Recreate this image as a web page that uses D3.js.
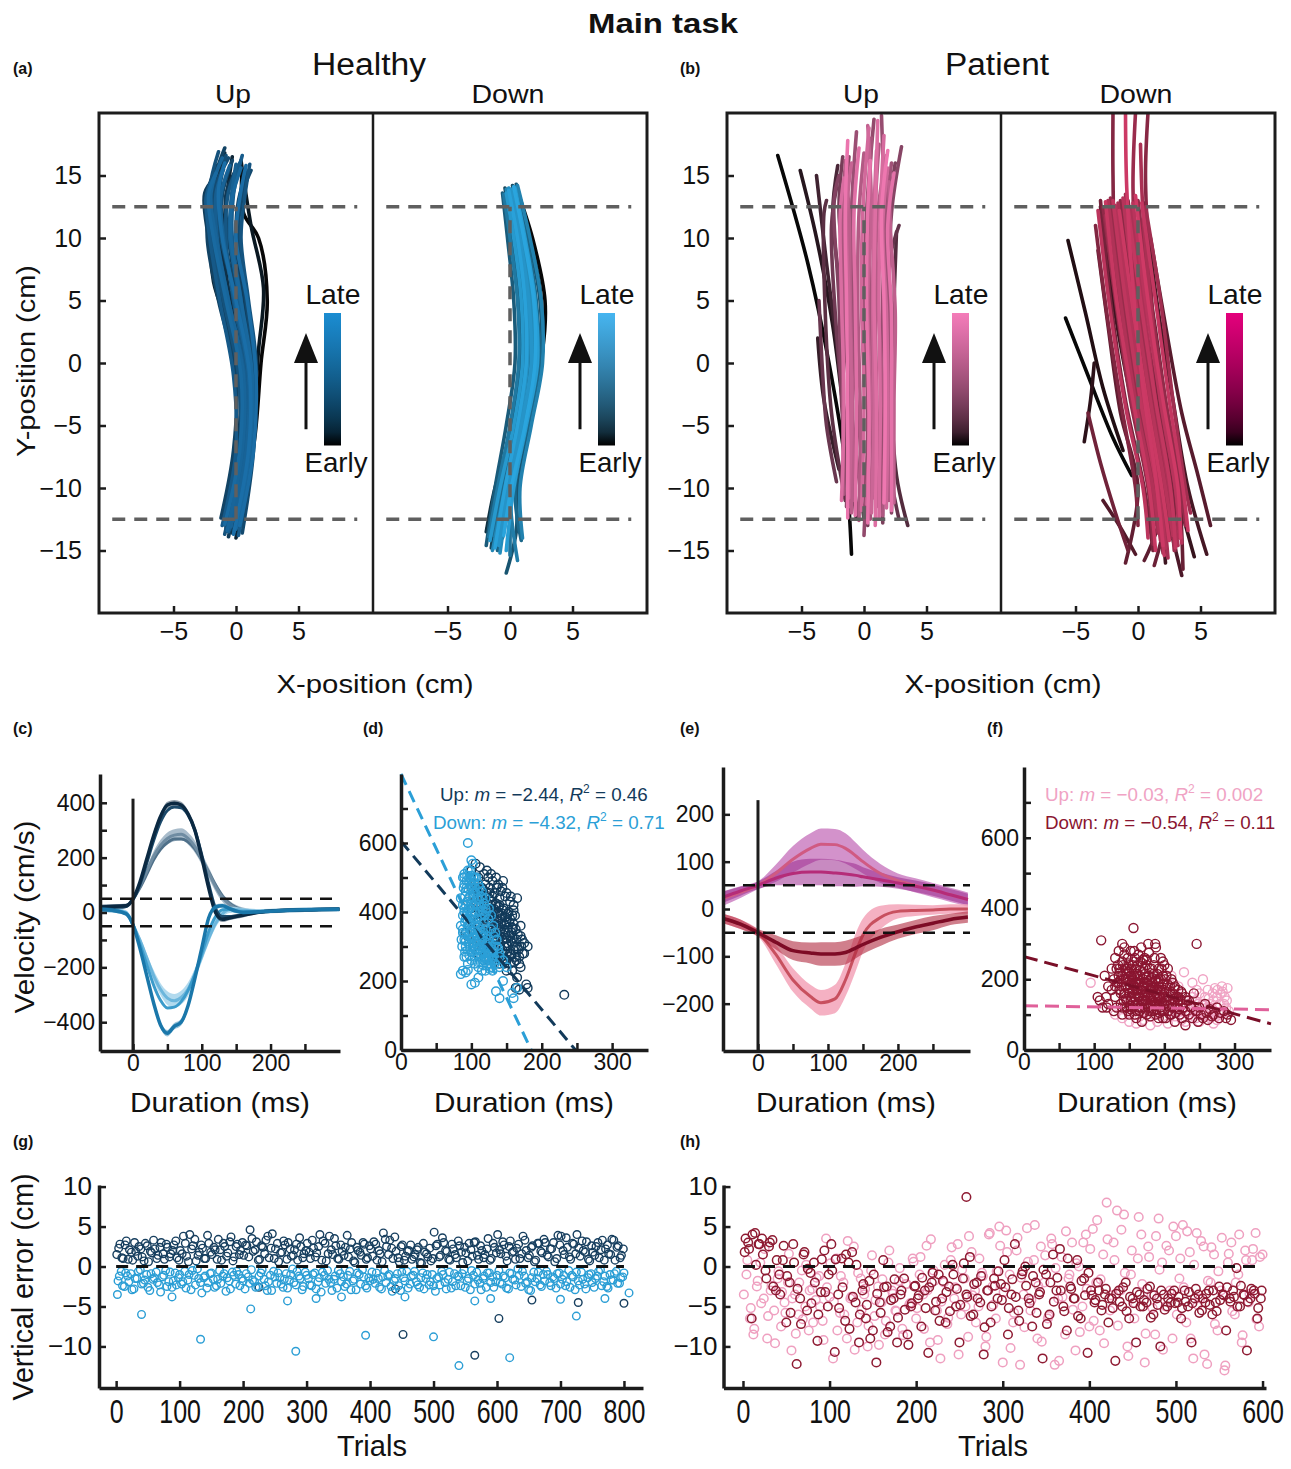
<!DOCTYPE html>
<html><head><meta charset="utf-8">
<script src="https://cdn.jsdelivr.net/npm/d3@7"></script>
<style>body{margin:0;background:#fff} svg text{font-family:"Liberation Sans",Arial,Helvetica,sans-serif}</style>
</head><body><script>
// ================= DATA =================
const titleMain = "Main task";
const groupTitles = ["Healthy", "Patient"];
const dirTitles = ["Up", "Down"];
const panelLetters = ["(a)","(b)","(c)","(d)","(e)","(f)","(g)","(h)"];
const posXTicks = [-5, 0, 5];
const posYTicks = [-15, -10, -5, 0, 5, 10, 15];
const targetY = [-12.5, 12.5];

// trajectories: flat [x,y, x,y, ...] in cm, ordered early -> late
const trajHealthyUp = [
 [0.2,-13.5, 1.5,-6, 2.0,0, 2.5,5, 1.8,10, 0.6,12, 0.5,15.5],
 [-0.5,-13, 1.2,-6, 1.8,1, 2.2,6, 1.2,11, 0.4,16.2],
 [-1.0,-12.5, 0.3,-5, 0.0,1, -1.8,6.5, -2.0,11, -1.2,16.0],
 [0.0,-14, 1.0,-7, 0.8,-1, -0.5,5, -1.0,10, -0.3,16.5],
 [-0.8,-13, 0.4,-6, 0.5,0, -0.8,6, -1.6,11, -0.9,16.8],
 [-0.3,-13.6, 0.9,-7, 0.8,-1, -0.4,5, -1.4,10, -1.8,13.5, -1.2,16.2],
 [-1.0,-12.8, 0.2,-7, 0.5,-1, -0.9,5, -2.0,10, -2.3,13.5, -1.5,15.8],
 [0.3,-13.2, 1.3,-7, 1.2,-1, 0.2,5, -0.6,10, -0.8,13.5, 0.2,15.8],
 [-0.6,-13.9, 0.6,-7, 0.3,-1, -1.2,5, -2.2,10, -2.5,13.6, -1.7,14.8],
 [0.0,-12.7, 1.0,-6, 1.4,0, 0.6,5, 0.0,10, 0.2,13, 0.9,15.3],
 [-1.2,-12.4, -0.2,-7, 0.0,-1, -1.4,5, -2.3,10, -2.0,13.8, -0.9,17.2],
 [-0.2,-13.4, 1.1,-7, 1.3,-1, 0.2,5, -1.0,10, -1.1,13.4, -0.3,16.2],
 [0.5,-13.6, 1.4,-7, 1.5,-1, 0.8,5, 0.2,10, 0.5,13.5, 1.2,15.4],
 [-0.8,-13.2, 0.5,-7, 0.6,-1, -0.7,5, -1.7,10, -1.8,13.6, -0.6,16.4],
 [-0.4,-12.9, 0.7,-6, 1.0,0, 0.0,5, -1.2,10, -1.4,13.2, -0.8,16.6],
 [-0.9,-13.7, 0.3,-7, 0.2,-1, -1.0,5, -1.9,10, -2.1,13.9, -1.4,16.9],
 [0.1,-13.0, 1.2,-7, 1.6,0, 1.0,5, 0.4,10, 0.7,13.3, 1.1,15.9],
 [-0.5,-13.3, 0.8,-7, 0.9,-1, -0.2,5, -0.8,10, -0.6,13.7, 0.3,16.0],
 [-1.1,-13.0, 0.0,-7, -0.2,-1, -1.3,5, -2.1,10, -2.4,13.2, -2.0,14.5],
 [0.2,-13.8, 1.2,-7, 1.1,-1, 0.4,5, -0.3,10, -0.2,13.5, 0.5,16.6],
 [-0.6,-13.5, 0.6,-7, 0.7,-1, -0.6,5, -1.5,10, -1.6,13.5, -1.0,15.5],
 [-0.3,-12.6, 0.9,-7, 1.1,-1, 0.3,5, -0.5,10, -0.4,13.0, 0.0,15.9],
 [-0.4,-13.1, 0.8,-7, 1.0,-1, -0.1,5, -1.0,10, -1.2,13.4, -0.5,15.8],
 [-0.7,-13.4, 0.5,-7, 0.6,-1, -0.6,5, -1.6,10, -2.0,13.6, -1.1,16.4],
 [0.0,-13.3, 1.1,-7, 1.3,-1, 0.4,5, -0.4,10, -0.3,13.2, 0.4,15.6],
 [-0.9,-12.9, 0.3,-7, 0.4,-1, -0.8,5, -1.8,10, -2.2,13.4, -1.6,15.2],
 [0.3,-13.0, 1.4,-7, 1.6,-1, 0.9,5, 0.0,10, 0.3,13.2, 0.8,15.8],
 [-0.2,-13.7, 1.0,-7, 1.1,-1, 0.0,5, -1.1,10, -1.4,13.8, -0.9,16.0]
];
const trajHealthyDown = [
 [0.5,14, 1.8,10, 2.8,5, 2.6,1, 1.2,-5, -0.5,-10, -1.2,-13],
 [0.2,13.5, 1.5,10, 2.4,6, 2.5,1, 1.0,-5, -0.6,-10, -1.8,-13.2],
 [-0.3,12.5, 0.5,9, 1.2,4, 1.0,-1, 0.0,-6, -1.2,-10, -1.9,-13.5],
 [0.4,13.8, 1.2,10, 1.8,5, 1.6,0, 0.6,-5, -0.5,-10, -1.0,-14.5],
 [-0.4,14.0, 0.2,10, 0.8,5, 0.8,0, 0.2,-5, -0.8,-10, -1.5,-14.8],
 [0.2,14.2, 1.0,10, 1.8,5, 2.0,0, 1.2,-5, 0.2,-10, -0.6,-14.0],
 [0.5,14.3, 1.5,10, 2.4,5, 2.5,0, 1.6,-5, 0.6,-10, 0.5,-13.5, -0.3,-16.8],
 [-0.6,13.6, -0.2,10, 0.3,5, 0.4,0, -0.3,-5, -1.2,-10, -1.9,-14.6],
 [0.0,13.9, 0.7,10, 1.4,5, 1.5,0, 0.8,-5, -0.2,-10, -1.0,-15.0],
 [0.3,14.0, 1.3,10, 2.1,5, 2.3,0, 1.4,-5, 0.4,-10, 0.9,-14.2],
 [-0.2,13.7, 0.4,10, 1.0,5, 1.1,0, 0.5,-5, -0.6,-10, -1.3,-13.8],
 [0.4,14.1, 1.1,10, 1.9,5, 2.1,0, 1.2,-5, 0.2,-10, 0.0,-15.4],
 [-0.5,13.5, 0.0,10, 0.6,5, 0.7,0, 0.0,-5, -1.0,-10, -1.7,-13.9],
 [0.1,13.8, 0.9,10, 1.6,5, 1.8,0, 1.0,-5, 0.0,-10, 0.6,-15.8],
 [0.6,14.2, 1.6,10, 2.5,5, 2.6,0, 1.7,-5, 0.8,-10, 1.0,-14.0],
 [-0.3,13.9, 0.5,10, 1.2,5, 1.3,0, 0.6,-5, -0.4,-10, -1.4,-15.0],
 [0.2,13.6, 1.0,10, 1.7,5, 1.9,0, 1.1,-5, 0.0,-10, -0.8,-15.2],
 [-0.1,14.0, 0.6,10, 1.3,5, 1.4,0, 0.7,-5, -0.3,-10, -1.1,-14.4],
 [0.1,13.9, 0.8,10, 1.5,5, 1.7,0, 0.9,-5, -0.1,-10, -0.9,-14.6],
 [-0.3,13.6, 0.3,10, 0.9,5, 1.0,0, 0.3,-5, -0.8,-10, -1.6,-14.2],
 [0.4,14.0, 1.2,10, 2.0,5, 2.2,0, 1.3,-5, 0.3,-10, -0.3,-15.0],
 [-0.1,13.8, 0.6,10, 1.2,5, 1.3,0, 0.6,-5, -0.4,-10, -1.2,-14.8],
 [0.3,14.1, 1.1,10, 1.9,5, 2.0,0, 1.2,-5, 0.1,-10, -0.5,-13.8]
];
const trajPatientUp = [
 [-1.0,-15.3, -1.5,-8, -2.8,0, -4.5,8, -6.9,16.6],
 [-0.6,-12.5, -1.5,-5, -2.5,3, -3.8,10, -5.1,15.4],
 [-2.0,-8.5, -3.2,-3, -3.7,2.0],
 [-1.0,-10, -2.0,0, -3.0,8, -3.8,15.0],
 [0.0,-12.5, -1.0,-4, -1.8,5, -2.5,12, -2.1,15.8],
 [3.5,-13.0, 2.6,-9, 2.2,-2, 2.4,5, 2.6,10.5],
 [-1.5,-11, -2.6,-4, -3.1,4, -3.2,12, -3.0,13],
 [2.8,-12.5, 2.0,-8, 1.8,0, 2.0,8, 2.8,11],
 [-2.2,-9.5, -3.0,-5, -3.3,-1, -3.6,5],
 [-0.5,-12, -1.6,-4, -2.3,4, -2.6,11, -2.2,14],
 [0.3,-13, -0.5,-4, -1.2,5, -2.0,12, -1.7,16.5],
 [1.5,-12.8, 1.4,-4, 1.5,4, 1.8,11, 2.5,16],
 [-1.2,-11.5, -1.8,-3, -2.0,5, -2.4,13, -2.0,15],
 [2.2,-12, 2.3,-3, 2.0,5, 2.2,12, 3.0,17.3],
 [-1.4,-11.5, -1.2,-3, -1.3,5, -1.5,12, -1.2,16.5],
 [0.0,-13.8, 0.3,-4, 0.0,5, 0.2,12, 0.8,19.5],
 [1.0,-11.5, 1.3,-3, 1.5,5, 1.6,12, 1.4,19.8],
 [-0.8,-11.0, -0.6,-3, -0.9,5, -1.0,12, -0.6,18.5],
 [2.0,-11.0, 2.0,-3, 2.0,3, 1.7,11, 2.2,16],
 [0.5,-12.5, 0.7,-4, 0.5,5, 0.4,12, 0.6,18.0],
 [-1.6,-10.5, -1.7,-3, -1.6,5, -1.7,12, -1.5,15.8],
 [1.5,-12.2, 1.6,-4, 1.1,5, 0.9,12, 1.2,17.5],
 [-0.4,-12.6, -0.3,-4, -0.5,5, -0.4,12, 0.0,16.8],
 [0.8,-10.8, 1.0,-3, 0.9,5, 1.1,12, 1.8,16.6],
 [-1.0,-12, -0.9,-4, -1.1,5, -1.2,12, -1.5,16.2],
 [2.4,-11.2, 2.4,-3, 2.5,4, 2.1,11, 2.0,14.5],
 [0.2,-11.3, 0.5,-3, 0.3,5, 0.6,12, 0.3,19.0],
 [-1.2,-10.8, -1.0,-3, -1.2,5, -1.4,12, -1.0,16.0],
 [0.6,-12.0, 0.8,-4, 0.7,5, 0.8,12, 1.0,17.0],
 [1.8,-11.6, 1.9,-3, 1.8,4, 1.5,11, 1.9,15.6],
 [-0.2,-11.8, 0.0,-3, -0.2,5, -0.1,12, 0.4,18.8],
 [1.2,-12.4, 1.3,-4, 1.2,5, 1.3,12, 1.6,18.2],
 [-1.8,-11.0, -1.6,-3, -1.8,5, -1.9,12, -1.6,14.8],
 [0.9,-13.0, 1.0,-4, 0.8,5, 0.9,12, 1.1,19.4],
 [-0.7,-12.2, -0.6,-4, -0.7,5, -0.8,12, -0.4,17.2],
 [2.2,-11.8, 2.2,-3, 2.2,4, 1.9,11, 2.4,15.2],
 [0.3,-12.8, 0.4,-4, 0.2,5, 0.3,12, 0.5,16.2],
 [-1.3,-12.4, -1.3,-4, -1.4,5, -1.5,12, -1.3,17.8],
 [1.6,-11.2, 1.7,-3, 1.6,5, 1.4,12, 1.9,17.0]
];
const trajPatientDown = [
 [-5.8,3.6, -4.0,-1, -2.0,-6, -0.5,-9],
 [-5.6,9.8, -4.2,4, -2.8,-2, -1.2,-7],
 [-4.3,-6.3, -3.8,-3, -3.5,0],
 [-1.5,12.5, -0.5,5, 1.0,-2, 3.0,-10, 4.5,-15.5],
 [-3.0,12.5, -2.0,5, -0.5,-3, 1.5,-10, 2.2,-16.0],
 [0.5,12.8, 1.5,5, 2.8,-3, 4.0,-10, 5.5,-15.3],
 [-2.3,8, -1.2,2, 0.3,-5, 2.0,-11, 3.5,-17.0],
 [-2.8,-11.0, -1.5,-13, -0.2,-15.3],
 [1.0,10, 2.2,3, 3.5,-4, 4.8,-9, 5.8,-13.0],
 [-1.8,10.5, -0.8,3, 0.6,-5, 1.8,-12, 0.5,-15.8],
 [-3.2,9, -2.4,3, -1.4,-4, 0.0,-10, -1.0,-16],
 [0.0,11, 1.2,4, 2.2,-3, 3.2,-9, 3.6,-16.5],
 [-0.5,10, 0.5,3, 1.5,-4, 2.6,-10, 1.3,-16.2],
 [-4.0,-4, -3.0,-8, -1.8,-12, -0.8,-15],
 [-3.0,13, -2.2,5, -1.0,-3, 0.5,-10, 1.2,-15],
 [-2.5,12, -1.5,5, -0.2,-2, 1.3,-9, 2.0,-14],
 [-0.8,13, 0.3,5, 1.6,-3, 2.8,-10, 3.0,-15],
 [-3.4,11, -2.5,4, -1.4,-3, -0.2,-10, 0.0,-13],
 [-2.0,20, -2.0,15, -1.8,8, -0.8,0, 0.6,-7, 1.8,-13],
 [0.8,20, 0.6,15, 0.9,8, 1.5,0, 2.2,-7, 3.0,-13.5],
 [-1.4,13, -0.4,5, 0.8,-3, 2.0,-10, 2.6,-14],
 [-2.8,12.5, -1.8,5, -0.6,-3, 0.8,-10, 1.2,-14.5],
 [0.0,13, 1.0,5, 2.2,-3, 3.4,-10, 3.8,-13],
 [-2.2,13.2, -1.2,5, 0.0,-3, 1.4,-10, 2.0,-15.2],
 [-0.2,20, -0.4,14, 0.0,6, 0.8,-2, 1.8,-9, 2.3,-14],
 [-1.0,13.5, 0.0,5, 1.2,-3, 2.4,-10, 2.9,-15],
 [0.6,12.5, 1.8,5, 2.8,-3, 3.8,-10, 4.2,-12],
 [-2.6,11.8, -1.6,4, -0.3,-4, 1.0,-10, 1.6,-13.6],
 [-1.6,12.8, -0.6,5, 0.6,-3, 1.8,-10, 2.4,-15.6],
 [0.2,17.5, 0.4,12, 1.0,5, 1.8,-3, 3.0,-10, 3.3,-14],
 [-0.6,12.5, 0.4,5, 1.4,-3, 2.5,-10, 3.2,-14.6],
 [-2.4,13, -1.4,5, -0.2,-3, 1.2,-10, 1.8,-14.2],
 [-1.8,12.6, -0.8,5, 0.4,-3, 1.6,-10, 2.2,-14.8],
 [-1.2,13.2, -0.2,5, 1.0,-3, 2.2,-10, 2.8,-13.8],
 [-0.4,12.8, 0.6,5, 1.8,-3, 3.0,-10, 3.5,-14.4],
 [-3.2,12.2, -2.2,4, -0.9,-4, 0.4,-10, 0.8,-14.0],
 [-2.0,13.0, -1.0,5, 0.2,-3, 1.5,-10, 2.1,-15.4],
 [-0.8,12.4, 0.2,5, 1.4,-3, 2.6,-10, 3.0,-14.8],
 [0.3,12.8, 1.4,5, 2.5,-3, 3.6,-10, 4.0,-13.4],
 [-2.6,12.9, -1.7,5, -0.4,-3, 0.9,-10, 1.4,-15.0],
 [-1.5,12.2, -0.5,5, 0.7,-3, 1.9,-10, 2.5,-14.2],
 [-1.0,20, -0.9,14, -0.4,6, 0.4,-2, 1.4,-9, 2.0,-14.6],
 [-0.2,13.4, 0.8,5, 2.0,-3, 3.2,-10, 3.4,-14.0]
];

// (c) healthy velocity profiles (ms, cm/s)
const velTimeC = [-48,-30,-10,0,10,20,30,40,50,60,70,80,90,100,110,120,130,140,150,160,180,200,250,300];
const velHUpFast  = [20,22,25,50,110,195,280,350,392,398,392,360,300,200,90,0,-25,-20,-15,-10,0,5,10,12];
const velHUpFast2 = [15,18,22,48,100,180,262,330,372,385,382,356,300,210,105,15,-15,-15,-12,-8,0,5,10,12];
const velHUpSlow  = [18,20,25,50,95,150,205,245,270,282,285,270,240,195,145,95,55,30,15,8,3,5,10,12];
const velHUpSlow2 = [14,16,22,48,90,140,192,230,255,268,268,258,232,192,148,100,60,34,18,9,3,5,10,12];
const velHUpFastSE = [8,8,6,6,8,10,12,12,12,12,12,12,12,12,12,10,10,8,8,8,6,6,6,6];
const velHUpSlowSE = [10,10,8,6,10,14,18,20,22,22,22,22,22,20,20,18,16,14,12,10,8,8,8,8];
const velHDnFast  = [12,8,-5,-45,-130,-230,-330,-410,-440,-415,-400,-340,-240,-130,-20,20,25,15,5,0,2,5,10,12];
const velHDnMid   = [10,8,-3,-45,-115,-190,-265,-320,-348,-345,-325,-285,-225,-150,-70,-15,10,12,6,3,3,5,10,12];
const velHDnSlow  = [12,10,0,-45,-100,-165,-230,-280,-312,-322,-310,-280,-225,-160,-95,-40,-5,10,10,8,5,6,10,12];
const velHDnFastSE = [8,8,6,6,8,10,12,12,12,12,12,12,12,12,10,10,8,8,8,6,6,6,6,6];
const velHDnSlowSE = [10,10,8,8,12,15,20,22,25,25,25,25,22,20,18,16,14,12,10,8,8,8,8,8];
const velTicksC = [-400,-300,-200,-100,0,100,200,300,400];
const velLabelsC = [-400,-200,0,200,400];
const durTicks = [0,50,100,150,200,250];
const durLabels = [0,100,200];
const threshC = [-50, 50];

// (d) peak velocity vs duration, healthy
const scatHUp = [[100,470],[105,480],[108,460],[110,500],[112,450],[115,470],[118,430],[120,480],[122,455],[125,440],[128,420],[130,445],[132,410],[135,425],[138,400],[140,440],[142,390],[145,405],[148,385],[150,370],[152,395],[155,380],[158,355],[160,365],[115,400],[118,380],[120,360],[122,410],[125,390],[128,370],[130,350],[132,380],[135,340],[138,360],[140,330],[142,350],[145,320],[148,340],[150,310],[152,300],[155,330],[158,310],[160,290],[162,270],[165,300],[168,250],[170,240],[172,320],[175,310],[178,190],[180,180],[163,180],[168,175],[158,230],[155,250],[150,260],[145,280],[140,300],[135,290],[130,320],[125,340],[120,330],[115,350],[110,370],[105,390],[100,410],[95,430],[98,380],[102,350],[108,330],[112,310],[116,300],[104,300],[95,330],[92,340],[110,280],[118,270],[125,260],[132,255],[140,250],[150,230],[165,210],[232,160],[100,520],[106,540],[112,530],[118,510],[124,500],[130,490],[136,470],[142,460],[148,445],[155,430],[162,390],[170,360],[145,490],[135,500],[128,510],[122,520],[165,440],[160,420],[170,330],[175,280],[180,300],[155,280],[148,265],
 [108,470],[111,455],[114,440],[117,465],[120,445],[123,425],[126,455],[129,430],[131,405],[134,420],[137,395],[139,415],[141,380],[144,395],[147,365],[149,385],[152,355],[154,370],[157,340],[159,350],[113,420],[116,410],[119,395],[121,385],[124,405],[127,380],[129,395],[133,365],[136,375],[139,345],[142,365],[145,335],[147,350],[150,325],[153,340],[156,315],[159,325],[162,300],[164,320],[167,290],[117,360],[121,340],[124,355],[127,330],[131,340],[134,315],[137,325],[141,305],[144,290],[147,300],[151,285],[154,270],[157,275],[161,255],[164,260],[168,270],[119,310],[123,295],[127,305],[131,285],[135,275],[139,265],[143,270],[147,250],[126,470],[133,455],[140,420],[146,410],[153,400],[158,390],[163,350],[166,335],[171,300],[173,280],[138,480],[144,470],[150,455],[156,445],[160,405],[112,395],[109,355],[106,420],[103,445]];
const scatHDown = [[88,500],[90,480],[92,460],[95,520],[97,500],[100,480],[102,455],[105,470],[108,440],[110,420],[112,400],[115,390],[118,370],[120,350],[122,330],[125,320],[128,300],[130,290],[132,270],[135,260],[138,250],[140,240],[85,440],[88,420],[90,400],[92,380],[95,360],[97,340],[100,320],[102,300],[105,290],[108,280],[110,270],[112,300],[115,320],[118,300],[120,280],[122,260],[125,250],[128,240],[130,230],[85,360],[88,340],[90,320],[92,300],[95,290],[87,300],[86,320],[90,270],[95,250],[100,260],[105,250],[110,240],[115,230],[120,230],[95,600],[100,550],[102,540],[85,220],[88,230],[92,225],[95,232],[100,190],[105,195],[110,210],[135,170],[140,150],[160,150],[165,180],[158,165],[145,200],[130,260],[125,280],[98,410],[100,430],[103,420],[106,400],[108,380],[110,360],[112,350],[114,340],[116,330],[104,360],[96,440],[93,470],[90,510],[98,520],[103,500],[107,500],[112,470],[116,440],[120,410],[124,380],[128,350],[132,330],[136,300],[140,280],[145,260],[150,240],[94,400],[92,420],[100,380],[102,400],[106,340],[96,310],[140,270],[132,300],
 [89,470],[91,445],[93,490],[94,430],[96,465],[98,445],[99,495],[101,470],[103,440],[104,485],[106,455],[107,425],[109,460],[111,435],[113,415],[114,445],[116,405],[118,425],[119,390],[121,400],[88,390],[90,410],[91,370],[93,395],[95,375],[96,410],[98,360],[99,390],[101,345],[103,375],[104,330],[106,365],[107,315],[109,345],[111,320],[113,335],[115,305],[117,340],[119,315],[121,300],[123,310],[125,290],[127,275],[129,265],[131,285],[133,250],[88,350],[90,335],[92,315],[94,345],[96,330],[98,300],[100,345],[102,325],[104,310],[106,295],[108,305],[110,290],[112,280],[114,270],[116,285],[118,260],[120,265],[122,245],[124,270],[126,235],[91,285],[93,270],[97,275],[101,285],[105,270],[109,255],[113,255],[117,245],[90,500],[94,505],[97,485],[100,505],[105,500],[110,480],[115,460],[120,440],[125,410],[128,390],[131,360],[134,340],[136,320],[138,295]];
const fitLinesD = [[[0,605],[248,0]], [[0,800],[185,0]]];
const fitTextD = [{dir:"Up", m:"−2.44", r2:"0.46"}, {dir:"Down", m:"−4.32", r2:"0.71"}];
const pvTicks = [0,100,200,300,400,500,600,700];
const pvLabels = [0,200,400,600];
const durTicksD = [0,50,100,150,200,250,300];
const durLabelsD = [0,100,200,300];

// (e) patient velocity profiles
const velTimeE = [-50,-25,0,25,50,75,90,110,125,140,150,175,200,225,250,275,300];
const velPUpA   = [22,35,50,75,105,128,137,136,128,112,100,75,60,50,40,30,20];
const velPUpASE = [15,12,8,18,28,32,33,33,32,28,25,20,15,15,15,15,15];
const velPUpB   = [25,38,50,65,75,78,78,76,74,71,68,62,55,48,40,30,20];
const velPUpBSE = [12,10,8,15,25,28,28,28,26,24,20,15,12,12,12,12,12];
const velPDnA   = [-20,-32,-50,-70,-88,-93,-95,-95,-92,-82,-75,-60,-48,-38,-30,-22,-17];
const velPDnASE = [10,10,8,15,20,22,25,25,25,22,20,18,15,15,15,12,12];
const velPDnB   = [-20,-32,-50,-95,-150,-185,-198,-190,-150,-90,-55,-18,-5,-3,-2,0,0];
const velPDnBSE = [10,10,8,20,25,25,27,30,35,40,35,25,15,12,10,10,10];
const velTicksE = [-200,-100,0,100,200];

// (f) peak velocity vs duration, patient
const scatPDown = [[105,150],[108,140],[110,310],[115,210],[118,120],[120,180],[125,170],[125,230],[128,200],[130,150],[130,260],[132,120],[135,280],[135,190],[136,230],[138,160],[140,100],[140,210],[140,250],[142,140],[143,290],[145,180],[145,230],[146,120],[148,200],[148,260],[150,160],[150,100],[150,220],[152,140],[152,280],[153,190],[155,240],[155,170],[155,120],[156,345],[157,210],[158,150],[158,260],[160,90],[160,190],[160,230],[162,130],[162,170],[163,270],[165,210],[165,150],[165,110],[166,250],[168,180],[168,80],[170,230],[170,140],[170,200],[172,120],[172,260],[173,165],[175,190],[175,100],[175,240],[176,150],[178,210],[178,275],[180,130],[180,170],[180,95],[182,230],[183,190],[185,150],[185,110],[186,260],[188,200],[188,290],[190,170],[190,130],[192,90],[192,230],[194,150],[195,200],[196,110],[198,250],[200,170],[200,130],[202,90],[203,210],[205,150],[206,110],[208,180],[210,130],[210,100],[212,160],[215,140],[215,80],[218,120],[220,150],[222,100],[225,90],[226,130],[230,70],[230,110],[232,140],[235,100],[238,120],[240,90],[242,160],[245,110],[246,300],[248,80],[250,120],[252,100],[255,90],[258,130],[260,105],[262,85],[265,115],[268,95],[270,100],[275,120],[278,90],[280,105],[285,110],[288,90],[290,100],[295,85],[135,210],[145,200],[152,210],[162,200],[172,190],[182,170],[192,180],[143,160],[153,150],[163,160],[173,140],[183,140],[193,130],[203,140],[147,230],[157,180],[167,170],[177,160],[187,130],[138,130],[148,110],[158,100],[168,120],[178,110],[188,100],[198,90],[157,280],[167,290],[177,300],[187,300],[140,300],[133,190],[128,110],[120,130],[117,150],[112,120],[195,260],[200,240],[205,230],[210,200],[212,190],[215,180],[220,170],[225,160],[230,150],[235,140],
 [137,220],[139,180],[141,240],[142,200],[144,160],[146,215],[147,140],[149,245],[150,185],[151,125],[153,230],[154,160],[155,200],[156,135],[157,250],[159,175],[160,215],[161,110],[162,240],[163,150],[164,190],[166,225],[167,130],[168,160],[169,245],[170,180],[171,105],[172,215],[174,140],[175,255],[176,175],[177,120],[178,195],[179,230],[180,150],[181,110],[182,205],[184,175],[185,240],[186,135],[187,195],[188,160],[189,115],[190,215],[191,145],[192,190],[193,105],[194,170],[196,230],[197,135],[198,185],[199,155],[200,110],[201,200],[203,165],[204,125],[205,185],[207,140],[208,100],[209,160],[211,120],[213,145],[214,175],[216,105],[217,150],[219,130],[221,115],[223,140],[224,165],[227,120],[140,120],[143,270],[145,145],[148,175],[150,240],[152,115],[154,205],[156,185],[158,125],[160,160],[162,210],[164,120],[166,195],[168,140],[170,255],[172,155],[174,205],[176,130],[178,170],[180,200],[182,140],[184,215],[186,180],[188,125],[190,150],[192,200],[194,120],[196,165],[198,210],[200,150],[134,240],[136,170],[138,200],[132,230],[130,180]];
const scatPUp = [[95,190],[130,100],[140,90],[150,80],[155,110],[160,75],[165,95],[170,85],[175,120],[180,70],[185,100],[190,80],[195,115],[200,90],[200,190],[205,75],[210,210],[210,110],[215,95],[220,140],[220,180],[225,85],[228,220],[230,120],[235,100],[240,150],[240,190],[245,90],[248,130],[250,160],[252,110],[255,200],[258,150],[260,95],[262,170],[265,130],[268,110],[270,140],[272,175],[275,150],[278,100],[280,160],[282,180],[285,130],[288,120],[290,175],[170,150],[180,140],[190,150],[200,130],[185,120],[195,160],[205,140],[215,120],[225,110],[235,130],[245,120],[255,100],[265,90],[275,85],[150,140],[160,130],[230,80],[250,80],[270,75],
 [232,105],[238,90],[244,140],[246,170],[254,130],[257,95],[263,145],[266,120],[271,110],[274,95],[279,130],[284,105],[286,150],[289,140],[292,110],[283,165],[276,170],[269,160],[261,120],[249,100]];
const fitLinesF = [[[0,125],[352,114]], [[0,264],[352,74]]];
const fitTextF = [{dir:"Up", m:"−0.03", r2:"0.002"}, {dir:"Down", m:"−0.54", r2:"0.11"}];

// (g) healthy vertical error per trial
const errHUp = [
 1.5,2.8,1.0,3.2,2.1,0.8,1.9,2.5,1.2,2.9,0.6,1.7,2.2,1.4,3.0,0.9,2.4,1.6,2.7,1.1,
 2.0,3.8,1.3,4.0,2.6,0.7,1.8,2.3,1.0,2.9,1.5,2.1,3.4,0.8,2.5,1.7,3.7,1.2,2.8,2.0,
 1.4,2.6,4.6,1.9,3.1,0.9,2.4,3.3,1.1,4.1,2.2,0.6,1.8,2.7,3.0,1.3,2.1,0.8,2.5,1.6,
 2.9,1.0,2.3,1.7,4.0,3.2,0.7,3.8,1.5,2.6,0.9,1.9,2.4,1.2,3.0,0.5,2.0,1.4,2.8,1.1,
 2.2,3.1,0.8,1.6,4.2,2.5,3.3,1.0,1.9,0.6,2.7,1.3,2.0,0.9,1.5,2.4,0.4,1.8,1.2,0.7,
 4.3,2.8,1.4,3.0,1.9,0.8,2.2,1.1,2.6,0.5,1.7,2.9,1.3,3.1,0.9,2.0,1.5,3.5,1.0,2.4,
 4.0,1.6,2.7,0.7,3.2,1.9,2.3,1.0,3.8,2.0,1.4,2.6,0.8,2.9,1.7,3.0,1.2,2.2,0.6,3.9,
 3.8,1.5,2.4,0.9,2.8,4.0,1.3,2.0,3.1,0.7,1.8,2.5,1.1,3.3,2.2,1.6,3.4,0.8,2.6,1.4];
const errHUp2 = [
 2.3,1.1,2.7,0.9,1.8,3.0,1.3,2.2,0.7,2.6,1.9,3.3,1.0,2.4,1.6,2.8,1.2,2.0,3.2,0.8,
 1.6,2.9,0.6,2.2,3.4,1.4,2.7,1.0,3.9,1.8,2.4,0.9,2.1,2.9,1.3,3.1,0.7,2.5,1.5,3.0,
 2.7,1.2,3.5,2.1,0.8,2.6,1.6,3.8,2.3,1.0,2.9,1.7,3.2,0.9,2.2,1.4,2.8,3.6,1.1,2.0,
 1.8,3.3,1.2,2.5,0.8,2.9,1.6,2.1,3.5,1.0,2.7,1.4,3.9,2.2,0.7,2.4,1.8,3.0,0.9,2.6,
 1.3,2.8,2.0,0.6,3.4,1.5,2.3,3.7,1.1,2.5,0.8,1.9,2.7,1.2,2.1,0.5,2.9,1.6,2.3,1.0,
 2.6,1.2,3.6,2.0,0.9,2.8,1.5,3.2,1.8,2.4,0.7,2.1,3.0,1.4,2.6,1.1,2.2,0.8,2.9,1.7,
 2.1,3.1,1.3,2.5,1.8,0.9,2.8,1.6,3.3,1.1,2.4,0.6,2.9,1.9,3.4,1.4,2.2,3.0,1.0,2.7,
 2.0,3.6,1.2,2.9,1.6,2.3,3.2,1.8,0.9,2.6,1.4,3.0,2.1,0.8,2.7,1.5,3.3,2.4,1.1,2.2];
const errHDown = [
 -1.8,-0.6,-2.5,-1.2,-0.9,-2.8,-1.5,-0.4,-2.1,-1.0,-3.0,-1.6,-0.7,-2.3,-1.3,-0.5,-1.9,-2.6,-0.8,-1.4,
 -2.2,-0.6,-1.7,-2.9,-1.1,-0.3,-2.0,-1.4,-2.7,-0.9,-1.6,-2.4,-0.5,-1.2,-3.1,-1.8,-0.7,-2.2,-1.0,-1.5,
 -2.8,-1.3,-0.4,-1.9,-2.5,-0.8,-1.6,-3.0,-1.1,-0.6,-2.1,-1.4,-2.6,-0.9,-1.7,-0.3,-2.3,-1.2,-2.9,-0.7,
 -1.5,-2.4,-0.8,-1.9,-3.2,-1.1,-0.5,-2.0,-1.6,-2.7,-0.9,-1.3,-2.2,-0.6,-1.8,-2.9,-1.0,-0.4,-2.4,-1.4,
 -0.7,-2.1,-1.5,-2.8,-0.5,-1.2,-2.5,-1.8,-0.9,-3.0,-1.4,-0.6,-2.2,-1.1,-1.9,-2.6,-0.8,-1.5,-2.3,-1.0,
 -3.1,-1.3,-0.6,-2.0,-1.6,-2.7,-0.9,-1.2,-2.4,-0.4,-1.8,-2.9,-1.1,-0.7,-2.1,-1.5,-2.6,-0.8,-1.3,-1.9,
 -0.5,-2.2,-1.4,-2.8,-0.9,-1.7,-0.3,-2.5,-1.2,-1.9,-3.0,-0.7,-1.5,-2.3,-1.0,-0.6,-2.0,-1.3,-2.7,-0.8,
 -1.6,-2.4,-0.5,-1.1,-2.9,-1.8,-0.7,-2.2,-1.4,-0.9,-2.6,-1.2,-0.4,-1.9,-2.5,-1.0,-1.7,-0.6,-2.1,-1.3];
const errHDown2 = [
 -1.2,-2.4,-0.8,-1.9,-2.9,-1.5,-0.6,-2.2,-1.7,-2.6,-0.9,-1.4,-2.0,-3.2,-1.1,-2.5,-0.7,-1.8,-2.3,-1.0,
 -1.9,-2.7,-1.0,-0.5,-2.3,-1.5,-3.3,-1.2,-2.0,-0.8,-2.6,-1.6,-2.1,-0.9,-1.4,-2.8,-1.1,-0.6,-2.4,-1.8,
 -0.9,-2.1,-1.7,-2.6,-1.2,-0.4,-2.4,-1.9,-3.0,-1.3,-0.8,-2.2,-1.6,-2.7,-1.0,-2.0,-0.6,-1.5,-2.5,-1.1,
 -2.3,-1.0,-2.8,-1.4,-0.7,-2.1,-1.6,-3.0,-1.2,-0.5,-1.9,-2.5,-1.1,-2.9,-1.6,-0.8,-2.2,-1.3,-2.7,-1.8,
 -1.6,-0.8,-2.6,-1.3,-2.0,-1.0,-3.1,-1.5,-2.4,-0.7,-1.8,-2.7,-1.2,-0.6,-2.3,-1.4,-2.8,-1.0,-1.9,-2.4,
 -1.5,-2.3,-1.0,-2.8,-0.7,-1.9,-2.4,-1.3,-0.9,-2.6,-1.5,-0.5,-2.2,-1.7,-2.9,-1.2,-0.8,-2.0,-2.6,-1.1,
 -2.0,-1.2,-2.7,-0.8,-1.6,-2.3,-1.1,-0.6,-2.1,-2.9,-1.4,-1.9,-0.7,-2.5,-1.8,-1.0,-2.4,-1.5,-0.9,-2.2,
 -1.1,-1.9,-2.6,-1.3,-0.7,-2.3,-1.6,-2.8,-1.0,-2.0,-1.5,-0.6,-2.4,-1.2,-2.7,-1.7,-0.9,-2.1,-1.4,-0.8];
const errHDownOutliers = [[2,-3.5],[40,-6.0],[88,-3.8],[133,-9.1],[212,-5.3],[270,-4.3],[283,-10.6],[315,-4.0],[355,-3.8],[393,-8.6],[455,-3.8],[500,-8.8],[540,-12.4],[565,-4.3],[590,-4.0],[620,-11.4],[700,-4.1],[725,-6.2],[770,-4.0],[808,-3.3]];
const errHUpOutliers = [[225,-2.6],[440,-2.8],[452,-8.5],[565,-11.1],[603,-6.5],[655,-4.2],[728,-4.5],[800,-4.6]];
const trialsHUp = d3.range(1, 800, 5);
const trialsHUp2 = d3.range(4, 800, 5);
const trialsHDown = d3.range(3, 800, 5);
const trialsHDown2 = d3.range(5, 801, 5);
const trialTicksG = [0,100,200,300,400,500,600,700,800];
const errTicks = [-10,-5,0,5,10];

// (h) patient vertical error per trial
const errPDown = [
 1.8,3.0,-6.5,4.2,2.8,3.5,-0.5,2.5,3.3,-3.0,-1.0,0.8,-7.0,-2.0,2.8,-12.2,-4.0,1.5,-5.5,-0.8,0.5,-9.3,-3.2,2.0,-5.0,
 2.8,-10.7,-3.5,1.0,-6.8,0.5,1.8,-4.5,-9.5,-3.0,-6.5,-1.8,-8.0,-12.0,-4.5,0.8,-2.5,-7.5,-4.0,-9.5,-3.5,-1.5,-8.5,-5.0,-2.5,
 -4.0,-7.5,-3.0,-10.8,-2.0,-5.5,-1.0,-4.0,-7.0,-2.5,0.2,-5.0,-9.5,-1.5,-3.5,1.2,-6.0,-2.0,-4.5,-11.0,-3.0,-7.0,-1.5,-4.0,-2.2,
 0.8,-8.5,-3.5,2.8,-5.5,-1.0,0.0,-4.0,-7.5,-2.0,-3.5,-11.5,-1.0,-6.0,1.5,-3.0,2.2,-5.0,-8.0,-2.5,-4.0,0.8,-6.5,-1.5,-10.8,
 -3.0,-4.5,-2.0,-5.5,-3.5,-7.0,-4.0,-11.8,-3.0,-5.0,-2.0,-6.5,-4.0,-9.5,-3.5,-5.0,-4.5,-2.5,-6.0,-4.0,-10.0,-3.5,-5.0,-4.5,-3.0,
 -4.5,-6.5,-3.0,-5.0,-9.5,-4.0,-3.5,-5.5,-4.5,-3.0,-6.0,-4.5,-2.5,-3.5,-8.0,-4.0,-3.0,-0.2,-5.0,-3.5,-10.5,-4.0,-3.0,-6.5,-4.0];
const errPDown2 = [
 3.5,2.2,4.0,0.2,2.8,1.5,-1.5,3.0,-2.5,0.8,-3.5,2.6,-1.2,-5.8,0.5,-2.8,-7.2,1.8,-0.3,-4.6,-2.0,-6.0,0.9,-3.2,-1.0,
 -0.5,0.9,-5.2,-2.6,1.5,-7.8,-3.8,0.2,-6.0,-2.2,-4.8,-9.0,-1.0,-3.4,-5.8,-2.6,-8.2,-4.2,-1.6,-6.4,-3.0,-5.4,-9.8,-4.6,-2.4,
 -3.6,-1.4,-5.2,-2.6,-0.8,-4.4,-6.8,-1.8,-3.2,-5.6,-1.0,-2.8,-4.8,0.4,-3.8,-6.2,-2.2,-4.0,-1.2,-7.6,-3.0,-5.0,-2.4,-0.6,-4.2,
 -2.6,-5.2,-1.6,-3.8,-6.8,-0.6,-2.4,-4.6,-1.2,-5.8,-3.2,-0.4,-7.2,-2.0,-4.4,-1.4,-3.0,-5.6,1.0,-2.8,-4.0,-6.2,-1.8,-3.6,-0.8,
 -3.6,-4.2,-3.0,-4.8,-2.8,-4.0,-5.2,-3.4,-4.4,-2.6,-5.6,-3.8,-4.6,-3.2,-5.0,-4.2,-2.8,-6.4,-3.6,-4.8,-3.0,-5.4,-4.0,-3.4,-4.6,
 -3.8,-5.2,-4.4,-3.2,-4.6,-2.8,-5.8,-4.0,-3.4,-4.8,-3.0,-5.6,-4.2,-3.6,-2.6,-4.4,-3.8,-5.0,-2.4,-3.6,-4.4,-2.8,-3.4,-5.2,-3.0];
const errPUp = [
 -1.0,-6.5,-8.5,-2.5,0.5,-4.0,-9.0,-3.0,-5.5,-1.5,-7.5,-4.5,-2.0,-10.5,-3.5,-6.0,-0.5,-5.0,-8.0,-2.8,-4.2,-1.2,-6.8,3.5,-3.8,
 -11.5,1.0,-5.8,-2.0,-9.0,-4.0,2.5,-7.0,-1.5,-3.5,-10.0,-0.5,-6.2,-2.5,-4.5,-8.5,0.5,-3.0,-5.5,-1.8,-7.8,-2.2,-4.8,1.0,-6.5,
 -1.0,-3.5,2.6,-9.5,-0.5,-5.5,-11.5,-2.0,-7.2,0.8,-4.0,2.8,-6.0,-1.5,-8.8,1.8,-3.0,-5.0,-0.8,-10.0,4.0,-2.5,-6.5,5.0,-12.0,
 4.5,-1.0,-7.0,2.0,-12.3,-3.5,4.8,-5.5,0.8,-9.0,2.5,-2.0,-6.5,3.5,-12.3,-4.0,1.2,-8.5,-1.5,3.0,-10.5,0.0,-5.0,4.0,-7.5,
 4.7,-2.0,-8.0,1.5,8.0,-5.5,3.0,7.0,-3.0,6.5,-10.0,-1.0,-6.5,1.0,4.0,-12.0,2.5,-3.5,-8.5,6.0,0.5,-5.0,2.0,-9.0,3.8,
 -1.5,5.2,-7.0,1.8,-11.5,4.2,-4.0,2.5,-12.2,-2.0,1.5,-8.0,-3.0,-13.0,0.5,3.0,-6.0,-1.0,-9.5,2.0,-4.5,0.8,4.2,-7.5,1.5];
const errPUp2 = [
 -3.5,0.8,-5.2,-7.8,-1.8,-4.6,2.2,-6.2,-2.4,-9.6,-0.6,-3.2,-5.8,1.6,-4.0,-8.4,-2.0,-6.6,0.2,-3.0,-7.0,-1.4,-5.0,-9.2,-2.6,
 0.4,-4.4,-8.0,-1.2,-6.0,3.2,-3.8,-10.4,-0.8,-5.4,-2.8,-7.4,1.4,-4.2,-9.8,-1.6,-6.8,2.0,-3.4,-5.6,-0.2,-8.6,-2.2,-4.6,0.6,
 -5.2,1.2,-7.8,-3.0,3.4,-1.8,-9.2,-4.4,0.2,-6.4,2.4,-2.6,-11.0,-0.4,-5.0,3.8,-3.6,-7.0,1.0,-1.2,-8.8,4.2,-4.8,-0.6,2.6,
 -3.2,1.8,-10.2,-5.8,3.6,-1.4,-7.6,0.6,-4.2,5.2,-2.4,-9.4,1.4,-6.2,2.8,-0.2,-11.8,-3.8,4.4,-1.0,-5.4,0.4,-8.2,3.0,-2.8,
 2.2,-6.8,5.8,-1.6,-9.6,3.4,-3.6,0.8,-7.4,4.6,-0.8,-11.2,2.0,-4.6,6.2,-2.2,-8.4,1.2,-5.2,3.8,-0.4,-10.4,2.6,-3.0,5.0,
 -6.0,1.0,-2.6,4.4,-9.0,0.2,-4.8,3.2,-11.0,-1.8,2.4,-7.2,-0.6,3.6,-12.4,1.6,-5.6,-2.0,4.0,-8.6,0.8,-3.4,2.2,-6.6,1.2];
const errPDownOutliers = [[258,8.7]];
const trialsPDown = d3.range(2, 600, 4);
const trialsPDown2 = d3.range(3, 600, 4);
const trialsPUp = d3.range(4, 601, 4);
const trialsPUp2 = d3.range(1, 600, 4);
const trialTicksH = [0,100,200,300,400,500,600];

// ================= DRAWING =================
const W = 1291, H = 1469;
const svg = d3.select("body").append("svg").attr("width", W).attr("height", H);
const defs = svg.append("defs");
const AX = "#1c1c1c";

function txt(g, s, x, y, o = {}) {
  const t = g.append("text").attr("x", x).attr("y", y).text(s)
    .attr("font-size", o.size || 24).attr("text-anchor", o.anchor || "middle")
    .attr("fill", o.fill || "#111");
  if (o.bold) t.attr("font-weight", "bold");
  if (o.len) t.attr("textLength", o.len).attr("lengthAdjust", "spacingAndGlyphs");
  if (o.rotate) t.attr("transform", `rotate(-90,${x},${y})`);
  if (o.sy) t.attr("transform", `translate(${x},${y}) scale(1,${o.sy}) translate(${-x},${-y})`);
  return t;
}
const pairs = a => { const r = []; for (let i = 0; i < a.length; i += 2) r.push([a[i], a[i + 1]]); return r; };
const fmt = d3.format("d");

txt(svg, titleMain, 663, 33, {size: 27, bold: true, len: 150});

// ---------- (a), (b) trajectories ----------
const yPos = d3.scaleLinear().domain([-20, 20]).range([613, 113]);
const SUBW = 274;
function trajSub(left, trajs, lineLate, barLate, idx) {
  const xs = d3.scaleLinear().domain([-10.96, 10.96]).range([left, left + SUBW]);
  const cid = "clip" + idx;
  defs.append("clipPath").attr("id", cid).append("rect")
    .attr("x", left).attr("y", 113).attr("width", SUBW).attr("height", 500);
  const g = svg.append("g").attr("clip-path", `url(#${cid})`);
  const n = trajs.length;
  const col = d3.scalePow().exponent(0.55).domain([0, n - 1]).range(["#070707", lineLate]).interpolate(d3.interpolateRgb);
  const line = d3.line().x(p => xs(p[0])).y(p => yPos(p[1])).curve(d3.curveCatmullRom);
  g.selectAll("path.tr").data(trajs).join("path").attr("class", "tr")
    .attr("d", t => line(pairs(t))).attr("fill", "none")
    .attr("stroke", (t, i) => col(i)).attr("stroke-width", 3.6).attr("stroke-linecap", "round");
  const gd = svg.append("g").attr("stroke", "#5f5f5f").attr("stroke-width", 3.5).attr("stroke-dasharray", "13,9");
  targetY.forEach(v => gd.append("line").attr("x1", xs(-9.9)).attr("x2", xs(9.7)).attr("y1", yPos(v)).attr("y2", yPos(v)));
  gd.append("line").attr("x1", xs(0)).attr("x2", xs(0)).attr("y1", yPos(targetY[0])).attr("y2", yPos(targetY[1]));
  const gid = "grad" + idx;
  const lg = defs.append("linearGradient").attr("id", gid).attr("x1", 0).attr("y1", 1).attr("x2", 0).attr("y2", 0);
  const cb = d3.scalePow().exponent(0.6).domain([0, 1]).range(["#000000", barLate]).interpolate(d3.interpolateRgb);
  d3.range(0, 1.0001, 0.1).forEach(t => lg.append("stop").attr("offset", t).attr("stop-color", cb(t)));
  svg.append("rect").attr("x", xs(7.04)).attr("y", yPos(4.0)).attr("width", xs(8.4) - xs(7.04))
    .attr("height", yPos(-6.6) - yPos(4.0)).attr("fill", `url(#${gid})`);
  const ax = xs(5.6);
  svg.append("line").attr("x1", ax).attr("x2", ax).attr("y1", yPos(-5.3)).attr("y2", yPos(0.5)).attr("stroke", "#111").attr("stroke-width", 3);
  svg.append("path").attr("d", `M${ax},${yPos(2.4)} L${ax - 12},${yPos(0)} L${ax + 12},${yPos(0)} Z`).attr("fill", "#111");
  txt(svg, "Late", xs(7.75), yPos(4.7), {size: 28, len: 55});
  txt(svg, "Early", xs(8.0), yPos(-8.7), {size: 28, len: 63});
  const xa = svg.append("g").attr("transform", `translate(0,613)`)
    .call(d3.axisBottom(xs).tickValues(posXTicks).tickSizeInner(-7).tickSizeOuter(0).tickPadding(9).tickFormat(fmt));
  xa.select(".domain").remove();
  xa.attr("font-size", 25);
  xa.selectAll(".tick line").attr("stroke", AX).attr("stroke-width", 2.5);
  xa.selectAll(".tick text").attr("fill", "#111");
  return xs;
}
function trajPanel(left, trajs2, lineLates, barLates, title, letter, letterX, ylab, idx0) {
  trajSub(left, trajs2[0], lineLates[0], barLates[0], idx0);
  trajSub(left + SUBW, trajs2[1], lineLates[1], barLates[1], idx0 + 1);
  svg.append("rect").attr("x", left).attr("y", 113).attr("width", 2 * SUBW).attr("height", 500)
    .attr("fill", "none").attr("stroke", AX).attr("stroke-width", 3);
  svg.append("line").attr("x1", left + SUBW).attr("x2", left + SUBW).attr("y1", 113).attr("y2", 613).attr("stroke", AX).attr("stroke-width", 2.5);
  const ya = svg.append("g").attr("transform", `translate(${left},0)`)
    .call(d3.axisLeft(yPos).tickValues(posYTicks).tickSizeInner(-7).tickSizeOuter(0).tickPadding(17).tickFormat(fmt));
  ya.select(".domain").remove();
  ya.attr("font-size", 25);
  ya.selectAll(".tick line").attr("stroke", AX).attr("stroke-width", 2.5);
  ya.selectAll(".tick text").attr("fill", "#111");
  const c = left + SUBW;
  txt(svg, title[0], c - 4, 75, {size: 31, len: title[1]});
  txt(svg, dirTitles[0], left + SUBW / 2 - 3, 103, {size: 26, len: 36});
  txt(svg, dirTitles[1], left + SUBW * 1.5 - 2, 103, {size: 26, len: 73});
  txt(svg, "X-position (cm)", c + 2, 693, {size: 26, len: 197});
  txt(svg, letter, letterX, 74, {size: 16, bold: true, anchor: "start"});
  if (ylab) txt(svg, "Y-position (cm)", 35, 361, {size: 26, len: 192, rotate: true});
}
trajPanel(99, [trajHealthyUp, trajHealthyDown], ["#1a6ea8", "#2aa5de"], ["#1b8dd2", "#46b5f0"], [groupTitles[0], 114], panelLetters[0], 13, true, 0);
trajPanel(727, [trajPatientUp, trajPatientDown], ["#ee77b0", "#cf3a66"], ["#f47cb9", "#e4007c"], [groupTitles[1], 104], panelLetters[1], 680, false, 2);

// ---------- helpers ----------
function lAxes(xs, ys, o) {
  const [x0] = xs.range(); const [yb] = ys.range();
  const gx = svg.append("g").attr("transform", `translate(0,${yb})`)
    .call(d3.axisBottom(xs).tickValues(o.xTicks).tickSizeInner(-7).tickSizeOuter(0).tickPadding(o.xPad)
      .tickFormat(v => o.xLabels.includes(v) ? fmt(v) : ""));
  const gy = svg.append("g").attr("transform", `translate(${x0},0)`)
    .call(d3.axisLeft(ys).tickValues(o.yTicks).tickSizeInner(-7).tickSizeOuter(0).tickPadding(o.yPad)
      .tickFormat(v => o.yLabels.includes(v) ? fmt(v) : ""));
  [gx, gy].forEach((g, i) => {
    g.attr("font-size", i === 0 ? o.xfs : o.yfs);
    g.select(".domain").attr("stroke", AX).attr("stroke-width", 3.5);
    g.selectAll(".tick line").attr("stroke", AX).attr("stroke-width", 2.5);
    g.selectAll(".tick text").attr("fill", "#111");
  });
  if (o.xsy) gx.selectAll(".tick text").attr("transform", `scale(1,${o.xsy})`);
}
function band(g, xs, ys, t, m, se, fill, op) {
  const area = d3.area().x((d, i) => xs(t[i])).y0((d, i) => ys(m[i] - se[i])).y1((d, i) => ys(m[i] + se[i])).curve(d3.curveMonotoneX);
  g.append("path").attr("d", area(m)).attr("fill", fill).attr("opacity", op);
}
function curve(g, xs, ys, t, m, stroke, w) {
  const ln = d3.line().x((d, i) => xs(t[i])).y(d => ys(d)).curve(d3.curveMonotoneX);
  g.append("path").attr("d", ln(m)).attr("fill", "none").attr("stroke", stroke).attr("stroke-width", w || 3);
}
function fitLabel(x, y, f, color) {
  const t = svg.append("text").attr("x", x).attr("y", y).attr("font-size", 18.8).attr("fill", color);
  t.append("tspan").text(f.dir + ": ");
  t.append("tspan").attr("font-style", "italic").text("m");
  t.append("tspan").text(" = " + f.m + ", ");
  t.append("tspan").attr("font-style", "italic").text("R");
  t.append("tspan").attr("dy", -8).attr("font-size", 12).text("2");
  t.append("tspan").attr("dy", 8).text(" = " + f.r2);
}
function scatter(g, pts, xs, ys, r, color, w) {
  g.append("g").selectAll("circle").data(pts).join("circle")
    .attr("cx", d => xs(d[0])).attr("cy", d => ys(d[1])).attr("r", r)
    .attr("fill", "none").attr("stroke", color).attr("stroke-width", w);
}
const durLabel = (cx) => txt(svg, "Duration (ms)", cx, 1112, {size: 28, len: 180});

// ---------- (c) ----------
{
  const xs = d3.scaleLinear().domain([-48, 301]).range([100, 340]);
  const ys = d3.scaleLinear().domain([-505, 505]).range([1051, 774]);
  const g = svg.append("g");
  band(g, xs, ys, velTimeC, velHUpSlow, velHUpSlowSE, "#8ca6b9", 0.75);
  curve(g, xs, ys, velTimeC, velHUpSlow2, "#4f7089", 3);
  curve(g, xs, ys, velTimeC, velHUpSlow, "#6f8ca2", 3);
  band(g, xs, ys, velTimeC, velHDnSlow, velHDnSlowSE, "#a5d3eb", 0.85);
  curve(g, xs, ys, velTimeC, velHDnSlow, "#6cb6dc", 3);
  curve(g, xs, ys, velTimeC, velHDnMid, "#3b9bcb", 3);
  band(g, xs, ys, velTimeC, velHUpFast, velHUpFastSE, "#0b2942", 0.45);
  curve(g, xs, ys, velTimeC, velHUpFast2, "#1c4a6b", 3);
  curve(g, xs, ys, velTimeC, velHUpFast, "#0b2942", 3.5);
  band(g, xs, ys, velTimeC, velHDnFast, velHDnFastSE, "#1a77aa", 0.45);
  curve(g, xs, ys, velTimeC, velHDnFast, "#1a77aa", 3.5);
  threshC.forEach(v => svg.append("line").attr("x1", xs(-48)).attr("x2", xs(301)).attr("y1", ys(v)).attr("y2", ys(v))
    .attr("stroke", "#111").attr("stroke-width", 2.5).attr("stroke-dasharray", "12,8"));
  svg.append("line").attr("x1", xs(0)).attr("x2", xs(0)).attr("y1", ys(-505)).attr("y2", ys(415)).attr("stroke", AX).attr("stroke-width", 3);
  lAxes(xs, ys, {xTicks: durTicks, xLabels: durLabels, yTicks: velTicksC, yLabels: velLabelsC, xPad: 4, yPad: 5, xfs: 23, yfs: 23});
  durLabel(220);
  txt(svg, "Velocity (cm/s)", 34, 917, {size: 27, len: 193, rotate: true});
  txt(svg, panelLetters[2], 13, 734, {size: 16, bold: true, anchor: "start"});
}

// ---------- (d) ----------
{
  const xs = d3.scaleLinear().domain([0, 351]).range([401, 648]);
  const ys = d3.scaleLinear().domain([0, 800]).range([1050, 774]);
  const g = svg.append("g");
  scatter(g, scatHUp, xs, ys, 4.3, "#123a5a", 1.4);
  scatter(g, scatHDown, xs, ys, 4.3, "#2b9fd7", 1.4);
  const ln = d3.line().x(d => xs(d[0])).y(d => ys(d[1]));
  ["#123a5a", "#2b9fd7"].forEach((c, i) => g.append("path").attr("d", ln(fitLinesD[i])).attr("fill", "none")
    .attr("stroke", c).attr("stroke-width", 3).attr("stroke-dasharray", "12,7"));
  lAxes(xs, ys, {xTicks: durTicksD, xLabels: durLabelsD, yTicks: pvTicks, yLabels: pvLabels, xPad: 4, yPad: 4, xfs: 23, yfs: 23});
  fitLabel(440, 801, fitTextD[0], "#123a5a");
  fitLabel(433, 829, fitTextD[1], "#2b9fd7");
  durLabel(524);
  txt(svg, panelLetters[3], 363, 734, {size: 16, bold: true, anchor: "start"});
}

// ---------- (e) ----------
{
  const xs = d3.scaleLinear().domain([-50, 303]).range([723, 970]);
  const ys = d3.scaleLinear().domain([-300, 300]).range([1051, 767]);
  const g = svg.append("g");
  band(g, xs, ys, velTimeE, velPUpA, velPUpASE, "#b54aa8", 0.6);
  band(g, xs, ys, velTimeE, velPUpB, velPUpBSE, "#9a2a8e", 0.55);
  curve(g, xs, ys, velTimeE, velPUpA, "#d05a82", 3);
  curve(g, xs, ys, velTimeE, velPUpB, "#b52c78", 3);
  band(g, xs, ys, velTimeE, velPDnB, velPDnBSE, "#f3a3b8", 0.85);
  curve(g, xs, ys, velTimeE, velPDnB, "#c8505f", 3);
  band(g, xs, ys, velTimeE, velPDnA, velPDnASE, "#b02a40", 0.6);
  curve(g, xs, ys, velTimeE, velPDnA, "#7d0b25", 3.5);
  threshC.forEach(v => svg.append("line").attr("x1", xs(-50)).attr("x2", xs(303)).attr("y1", ys(v)).attr("y2", ys(v))
    .attr("stroke", "#111").attr("stroke-width", 2.5).attr("stroke-dasharray", "12,8"));
  svg.append("line").attr("x1", xs(0)).attr("x2", xs(0)).attr("y1", ys(-300)).attr("y2", ys(230)).attr("stroke", AX).attr("stroke-width", 3);
  lAxes(xs, ys, {xTicks: durTicks, xLabels: durLabels, yTicks: velTicksE, yLabels: velTicksE, xPad: 4, yPad: 9, xfs: 23, yfs: 23});
  durLabel(846);
  txt(svg, panelLetters[4], 680, 734, {size: 16, bold: true, anchor: "start"});
}

// ---------- (f) ----------
{
  const xs = d3.scaleLinear().domain([0, 352]).range([1024, 1271]);
  const ys = d3.scaleLinear().domain([0, 800]).range([1050, 767]);
  const g = svg.append("g");
  scatter(g, scatPUp, xs, ys, 4.5, "#f0a3c4", 1.4);
  scatter(g, scatPDown, xs, ys, 4.5, "#8a1530", 1.4);
  const ln = d3.line().x(d => xs(d[0])).y(d => ys(d[1]));
  ["#e0609a", "#7a0f28"].forEach((c, i) => g.append("path").attr("d", ln(fitLinesF[i])).attr("fill", "none")
    .attr("stroke", c).attr("stroke-width", 3).attr("stroke-dasharray", "14,7"));
  lAxes(xs, ys, {xTicks: durTicksD, xLabels: durLabelsD, yTicks: pvTicks, yLabels: pvLabels, xPad: 4, yPad: 5, xfs: 23, yfs: 23});
  fitLabel(1045, 801, fitTextF[0], "#f0a3c4");
  fitLabel(1045, 829, fitTextF[1], "#8a1530");
  durLabel(1147);
  txt(svg, panelLetters[5], 987, 734, {size: 16, bold: true, anchor: "start"});
}

// ---------- (g) ----------
const yErr = d3.scaleLinear().domain([-15.2, 10.2]).range([1388, 1185]);
{
  const xs = d3.scaleLinear().domain([-27, 830]).range([99, 643]);
  const g = svg.append("g");
  const upPts = errHUp.map((v, i) => [trialsHUp[i], v])
    .concat(errHUp2.map((v, i) => [trialsHUp2[i], v])).concat(errHUpOutliers);
  const dnPts = errHDown.map((v, i) => [trialsHDown[i], v])
    .concat(errHDown2.map((v, i) => [trialsHDown2[i], v])).concat(errHDownOutliers);
  scatter(g, upPts, xs, yErr, 3.8, "#173f5f", 1.4);
  scatter(g, dnPts, xs, yErr, 3.8, "#2b9ed5", 1.4);
  svg.append("line").attr("x1", xs(0)).attr("x2", xs(800)).attr("y1", yErr(0)).attr("y2", yErr(0))
    .attr("stroke", "#111").attr("stroke-width", 3).attr("stroke-dasharray", "12,8");
  lAxes(xs, yErr, {xTicks: trialTicksG, xLabels: trialTicksG, yTicks: errTicks, yLabels: errTicks, xPad: 9, yPad: 7, xfs: 25, yfs: 26, xsy: 1.3});
  txt(svg, "Trials", 372, 1456, {size: 27, len: 70, sy: 1.12});
  txt(svg, "Vertical error (cm)", 33, 1287, {size: 29, len: 227, rotate: true});
  txt(svg, panelLetters[6], 13, 1147, {size: 16, bold: true, anchor: "start"});
}

// ---------- (h) ----------
{
  const xs = d3.scaleLinear().domain([-22.5, 604]).range([723.5, 1266]);
  const g = svg.append("g");
  const upPts = errPUp.map((v, i) => [trialsPUp[i], v]).concat(errPUp2.map((v, i) => [trialsPUp2[i], v]));
  const dnPts = errPDown.map((v, i) => [trialsPDown[i], v])
    .concat(errPDown2.map((v, i) => [trialsPDown2[i], v])).concat(errPDownOutliers);
  scatter(g, upPts, xs, yErr, 4.3, "#efa0c0", 1.5);
  scatter(g, dnPts, xs, yErr, 4.3, "#8e1a32", 1.5);
  svg.append("line").attr("x1", xs(0)).attr("x2", xs(600)).attr("y1", yErr(0)).attr("y2", yErr(0))
    .attr("stroke", "#111").attr("stroke-width", 3).attr("stroke-dasharray", "12,8");
  lAxes(xs, yErr, {xTicks: trialTicksH, xLabels: trialTicksH, yTicks: errTicks, yLabels: errTicks, xPad: 9, yPad: 6, xfs: 25, yfs: 26, xsy: 1.3});
  txt(svg, "Trials", 993, 1456, {size: 27, len: 70, sy: 1.12});
  txt(svg, panelLetters[7], 680, 1147, {size: 16, bold: true, anchor: "start"});
}
</script></body></html>
